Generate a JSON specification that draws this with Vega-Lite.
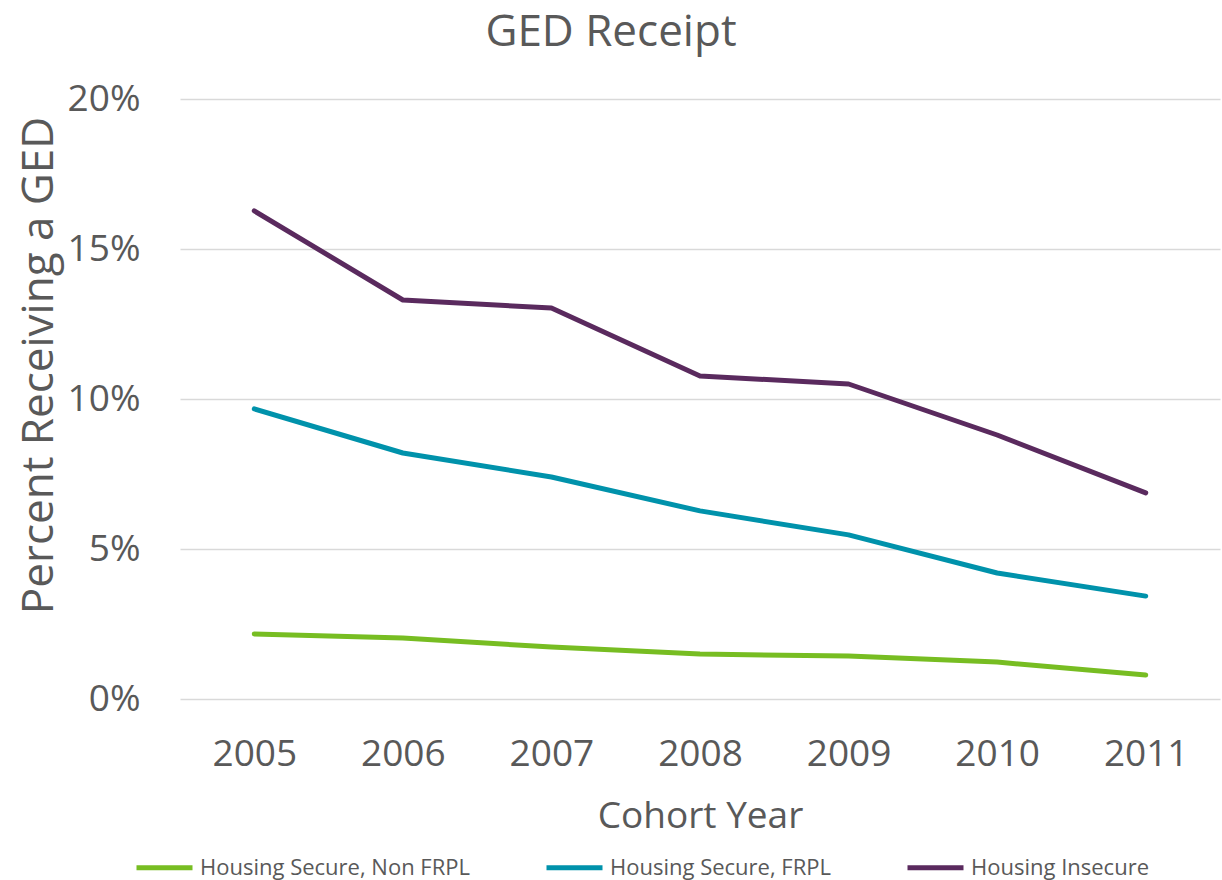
{
  "$schema": "https://vega.github.io/schema/vega-lite/v6.json",
  "width": 1040,
  "height": 600,
  "autosize": "none",
  "padding": {"left": 180, "top": 99, "right": 2, "bottom": 181},
  "background": "white",
  "title": {
    "text": "GED Receipt",
    "font": "Open Sans",
    "fontSize": 44,
    "fontWeight": "normal",
    "color": "#595959",
    "anchor": "middle",
    "dx": -89,
    "offset": 25
  },
  "config": {
    "view": {"stroke": null},
    "font": "Open Sans"
  },
  "data": {
    "values": [
      {"year": "2005", "group": "Housing Secure, Non FRPL", "pct": 0.0217},
      {"year": "2006", "group": "Housing Secure, Non FRPL", "pct": 0.0203},
      {"year": "2007", "group": "Housing Secure, Non FRPL", "pct": 0.0173},
      {"year": "2008", "group": "Housing Secure, Non FRPL", "pct": 0.0150},
      {"year": "2009", "group": "Housing Secure, Non FRPL", "pct": 0.0143},
      {"year": "2010", "group": "Housing Secure, Non FRPL", "pct": 0.0123},
      {"year": "2011", "group": "Housing Secure, Non FRPL", "pct": 0.0080},
      {"year": "2005", "group": "Housing Secure, FRPL", "pct": 0.0967},
      {"year": "2006", "group": "Housing Secure, FRPL", "pct": 0.0820},
      {"year": "2007", "group": "Housing Secure, FRPL", "pct": 0.0740},
      {"year": "2008", "group": "Housing Secure, FRPL", "pct": 0.0627},
      {"year": "2009", "group": "Housing Secure, FRPL", "pct": 0.0547},
      {"year": "2010", "group": "Housing Secure, FRPL", "pct": 0.0420},
      {"year": "2011", "group": "Housing Secure, FRPL", "pct": 0.0343},
      {"year": "2005", "group": "Housing Insecure", "pct": 0.1627},
      {"year": "2006", "group": "Housing Insecure", "pct": 0.1330},
      {"year": "2007", "group": "Housing Insecure", "pct": 0.1303},
      {"year": "2008", "group": "Housing Insecure", "pct": 0.1077},
      {"year": "2009", "group": "Housing Insecure", "pct": 0.1050},
      {"year": "2010", "group": "Housing Insecure", "pct": 0.0880},
      {"year": "2011", "group": "Housing Insecure", "pct": 0.0687}
    ]
  },
  "mark": {"type": "line", "strokeWidth": 5, "strokeCap": "round", "strokeJoin": "round"},
  "encoding": {
    "x": {
      "field": "year",
      "type": "ordinal",
      "scale": {"type": "point", "padding": 0.5},
      "axis": {
        "title": "Cohort Year",
        "titleFontSize": 37,
        "titleFontWeight": "normal",
        "titleColor": "#595959",
        "titlePadding": 26,
        "labelFontSize": 37,
        "labelColor": "#595959",
        "labelPadding": 37,
        "labelAngle": 0,
        "domain": false,
        "ticks": false,
        "grid": false
      }
    },
    "y": {
      "field": "pct",
      "type": "quantitative",
      "scale": {"domain": [0, 0.2], "nice": false},
      "axis": {
        "title": "Percent Receiving a GED",
        "titleFontSize": 44,
        "titleFontWeight": "normal",
        "titleColor": "#595959",
        "titlePadding": 6,
        "titleY": 266,
        "format": ".0%",
        "values": [0, 0.05, 0.1, 0.15, 0.2],
        "labelFontSize": 37,
        "labelColor": "#595959",
        "labelPadding": 40,
        "domain": false,
        "ticks": false,
        "grid": true,
        "gridColor": "#d9d9d9",
        "gridWidth": 1.3
      }
    },
    "color": {
      "field": "group",
      "type": "nominal",
      "scale": {
        "domain": ["Housing Secure, Non FRPL", "Housing Secure, FRPL", "Housing Insecure"],
        "range": ["#77bd22", "#0092ab", "#5a2a5e"]
      },
      "legend": {
        "title": null,
        "orient": "none",
        "direction": "horizontal",
        "legendX": -46,
        "legendY": 738,
        "symbolType": "stroke",
        "symbolSize": 3136,
        "symbolStrokeWidth": 5,
        "labelFontSize": 22,
        "labelColor": "#595959",
        "labelOffset": 5,
        "labelLimit": 500,
        "columnPadding": 66
      }
    }
  }
}
